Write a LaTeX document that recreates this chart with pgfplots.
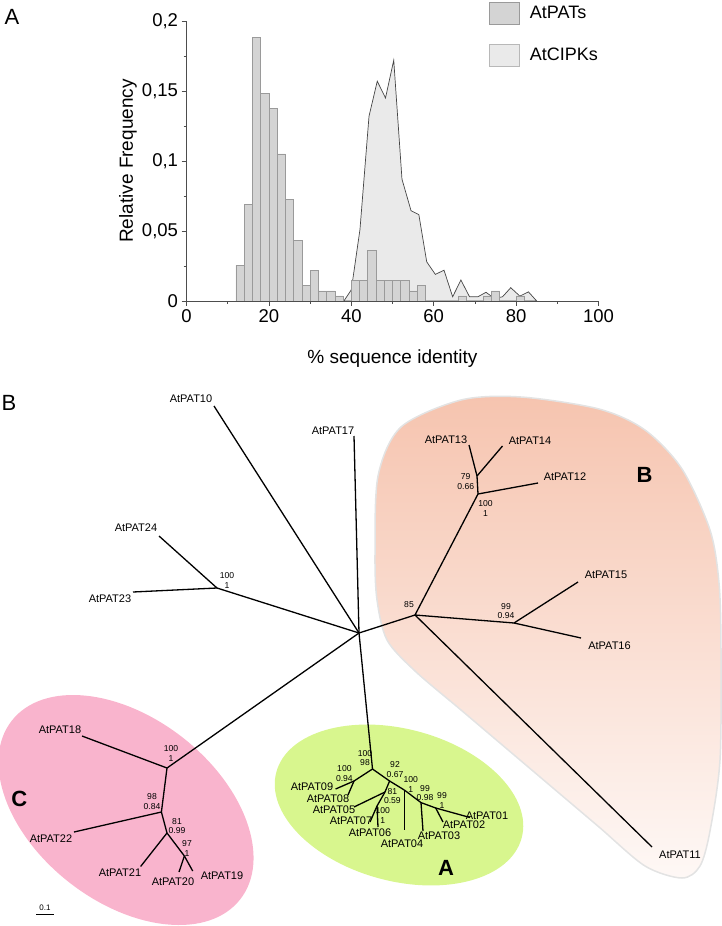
\documentclass[border=0pt]{standalone}
\usepackage{pgfplots}
\pgfplotsset{compat=1.18}
\usepackage{fontspec}
\setmainfont{Liberation Sans}
\definecolor{patfill}{HTML}{D4D4D4}
\definecolor{patedge}{HTML}{9A9A9A}
\definecolor{cipkfill}{HTML}{EAEAEA}
\definecolor{cipkedge}{HTML}{454545}
\definecolor{axisgray}{HTML}{4D4D4D}
\definecolor{cpink}{HTML}{F9B4CD}
\definecolor{agreen}{HTML}{D8F68E}
\definecolor{bpeach}{HTML}{F6C4AF}
\tikzset{
  leaf/.style={font=\fontsize{11bp}{12.5bp}\selectfont, inner sep=0pt},
  bs/.style={font=\fontsize{8.6bp}{9.8bp}\selectfont, inner sep=0pt, align=center},
  big/.style={font=\fontsize{22bp}{24bp}\selectfont\bfseries, inner sep=0pt},
}
\pgfplotsset{tree/.style={black, line width=1.3bp, no markers, forget plot}}
\begin{document}
\begin{tikzpicture}
\path[use as bounding box] (0,0) rectangle (722bp,926bp);
% ---------- tree canvas ----------
\begin{axis}[
  at={(0bp,0bp)}, anchor=south west,
  scale only axis, width=722bp, height=926bp,
  xmin=0, xmax=722, ymin=0, ymax=926, y dir=reverse,
  hide axis, clip=false,
]
% clade backgrounds
\fill[cpink, rotate around={-38:(126,810)}] (126,810) ellipse [x radius=145bp, y radius=92bp];
\fill[agreen, rotate around={-15:(399,805)}] (399,805) ellipse [x radius=127bp, y radius=76bp];
\shade[top color=bpeach, middle color=bpeach, bottom color=bpeach!12, draw=gray!22, line width=1.5bp]
  plot[smooth cycle, tension=0.5] coordinates {(375,554) (378,476) (401,427) (461,400) (521,397) (599,409) (645,430) (682,469) (710,530) (719,583) (721,650) (720,760) (710,831) (700,866) (682,878) (645,866) (599,827) (553,788) (507,749) (461,710) (415,671) (387,640) (377,600)};
% branches
\addplot[tree] coordinates {(214,406) (359,633)};
\addplot[tree] coordinates {(354,436) (359,633)};
\addplot[tree] coordinates {(359,633) (372.5,769)};
\addplot[tree] coordinates {(359,633) (217,588)};
\addplot[tree] coordinates {(217,588) (159,536)};
\addplot[tree] coordinates {(217,588) (133,592)};
\addplot[tree] coordinates {(359,633) (415,615)};
\addplot[tree] coordinates {(415,615) (478,494)};
\addplot[tree] coordinates {(478,494) (477,476)};
\addplot[tree] coordinates {(477,476) (469,445)};
\addplot[tree] coordinates {(477,476) (502.5,446)};
\addplot[tree] coordinates {(478,494) (538,483)};
\addplot[tree] coordinates {(415,615) (514,623)};
\addplot[tree] coordinates {(514,623) (578,582)};
\addplot[tree] coordinates {(514,623) (581,638)};
\addplot[tree] coordinates {(415,615) (652,847)};
\addplot[tree] coordinates {(359,633) (167,768)};
\addplot[tree] coordinates {(167,768) (82,736)};
\addplot[tree] coordinates {(167,768) (161.4,812)};
\addplot[tree] coordinates {(161.4,812) (74,832)};
\addplot[tree] coordinates {(161.4,812) (167,833)};
\addplot[tree] coordinates {(167,833) (140.6,866.5)};
\addplot[tree] coordinates {(167,833) (184.4,856)};
\addplot[tree] coordinates {(184.4,856) (179,872)};
\addplot[tree] coordinates {(184.4,856) (192.7,871)};
\addplot[tree] coordinates {(372.5,769) (354,781)};
\addplot[tree] coordinates {(354,781) (335.6,789)};
\addplot[tree] coordinates {(354,781) (348,795)};
\addplot[tree] coordinates {(372.5,769) (389.6,781)};
\addplot[tree] coordinates {(389.6,781) (385,792)};
\addplot[tree] coordinates {(385,792) (354,807)};
\addplot[tree] coordinates {(385,792) (377,806)};
\addplot[tree] coordinates {(377,806) (370,822)};
\addplot[tree] coordinates {(377,806) (378,827)};
\addplot[tree] coordinates {(389.6,781) (404.3,790)};
\addplot[tree] coordinates {(404.3,790) (404.3,830)};
\addplot[tree] coordinates {(404.3,790) (421,802.6)};
\addplot[tree] coordinates {(421,802.6) (423,831)};
\addplot[tree] coordinates {(421,802.6) (435.7,808)};
\addplot[tree] coordinates {(435.7,808) (443,822)};
\addplot[tree] coordinates {(435.7,808) (470,817.5)};
% scale bar
\addplot[black, line width=0.8bp, no markers, forget plot] coordinates {(36,914) (54.4,914)};
\node[font=\fontsize{8bp}{9bp}\selectfont, inner sep=0pt] at (45,908) {0.1};
% leaf labels
\node[leaf] at (191,399) {AtPAT10};
\node[leaf] at (333,431) {AtPAT17};
\node[leaf] at (136,528) {AtPAT24};
\node[leaf] at (110,599) {AtPAT23};
\node[leaf] at (446,440) {AtPAT13};
\node[leaf] at (530,441) {AtPAT14};
\node[leaf] at (565,477) {AtPAT12};
\node[leaf] at (606,575) {AtPAT15};
\node[leaf] at (609.5,645.5) {AtPAT16};
\node[leaf] at (680,855) {AtPAT11};
\node[leaf] at (60,730) {AtPAT18};
\node[leaf] at (51,839) {AtPAT22};
\node[leaf] at (120,873) {AtPAT21};
\node[leaf] at (173,882) {AtPAT20};
\node[leaf] at (222,876) {AtPAT19};
\node[leaf] at (312,786.5) {AtPAT09};
\node[leaf] at (328,798.5) {AtPAT08};
\node[leaf] at (334,810) {AtPAT05};
\node[leaf] at (351,821) {AtPAT07};
\node[leaf] at (370,833) {AtPAT06};
\node[leaf] at (402,844) {AtPAT04};
\node[leaf] at (439,836) {AtPAT03};
\node[leaf] at (464,825) {AtPAT02};
\node[leaf] at (487,816) {AtPAT01};
% support values
\node[bs] at (227,580.5) {100\\1};
\node[bs] at (409,605) {85};
\node[bs] at (485.5,508.5) {100\\1};
\node[bs] at (465.7,481.4) {79\\0.66};
\node[bs] at (506,611) {99\\0.94};
\node[bs] at (171,753.5) {100\\1};
\node[bs] at (152,801.4) {98\\0.84};
\node[bs] at (177,826) {81\\0.99};
\node[bs] at (187,848.5) {97\\1};
\node[bs] at (365,758) {100\\98};
\node[bs] at (344.4,773.6) {100\\0.94};
\node[bs] at (395,769.3) {92\\0.67};
\node[bs] at (392.4,796) {81\\0.59};
\node[bs] at (382.7,815.6) {100\\1};
\node[bs] at (410.8,784.5) {100\\1};
\node[bs] at (425,793) {99\\0.98};
\node[bs] at (442,800.6) {99\\1};
% clade letters and panel letters
\node[big] at (446,868) {A};
\node[big] at (644.5,474.6) {B};
\node[big] at (19.4,799) {C};
\node[font=\fontsize{22bp}{24bp}\selectfont, inner sep=0pt] at (12,17) {A};
\node[font=\fontsize{22bp}{24bp}\selectfont, inner sep=0pt] at (9,403) {B};
\end{axis}
% ---------- histogram ----------
\begin{axis}[
  at={(186.5bp,625bp)}, anchor=south west,
  scale only axis, width=412bp, height=280bp,
  xmin=0, xmax=100, ymin=0, ymax=0.2,
  axis lines=left, axis line style={-, axisgray, line width=0.8bp},
  axis on top,
  tick align=outside, tick style={axisgray, line width=0.8bp},
  major tick length=5bp, minor tick length=3bp,
  xtick={0,20,40,60,80,100}, xticklabels={0,20,40,60,80,100},
  minor xtick={10,30,50,70,90},
  ytick={0,0.05,0.1,0.15,0.2}, yticklabels={0,{0,05},{0,1},{0,15},{0,2}},
  minor ytick={0.025,0.075,0.125,0.175},
  ticklabel style={font=\fontsize{18.5bp}{21bp}\selectfont},
  xlabel={\% sequence identity}, ylabel={Relative Frequency},
  label style={font=\fontsize{19bp}{22bp}\selectfont},
  xlabel style={at={(axis description cs:0.5,-0.204)}, anchor=center},
  ylabel style={at={(axis description cs:-0.142,0.5)}, anchor=center},
  legend style={draw=none, fill=none, at={(axis description cs:0.734,1.068)}, anchor=north west,
    font=\fontsize{18bp}{21bp}\selectfont, row sep=19bp, column sep=8bp, inner sep=0pt},
  legend cell align=left,
  legend image code/.code={\draw[#1] (0bp,-11bp) rectangle (30bp,11bp);},
  clip=false,
]
\addlegendimage{fill=patfill, draw=patedge, line width=0.8bp}
\addlegendentry{AtPATs}
\addlegendimage{fill=cipkfill, draw=patedge!70, line width=0.8bp}
\addlegendentry{AtCIPKs}
\addplot[fill=cipkfill, draw=cipkedge, line width=0.7bp, forget plot] coordinates {
(38.2,0) (40,0.008) (42.1,0.051) (44.3,0.132) (46.3,0.157) (48.3,0.145) (50.3,0.172)
(52.3,0.087) (54.5,0.0645) (56.4,0.0617) (58.3,0.028) (60.4,0.019) (62.5,0.022)
(64.6,0.003) (66.6,0.015) (68.7,0.003) (70.7,0.003) (72.7,0.0062) (74.7,0.0019)
(76.7,0.003) (78.7,0.0095) (80.9,0.0035) (83,0.0065) (85,0)} \closedcycle;
\addplot[ybar interval, fill=patfill, draw=patedge, line width=0.6bp, forget plot] coordinates {
(12,0.02536) (14,0.06884) (16,0.18841) (18,0.14855) (20,0.13768) (22,0.10507)
(24,0.07246) (26,0.04348) (28,0.01087) (30,0.02174) (32,0.00725) (34,0.00725)
(36,0.00362) (38,0) (40,0.01449) (42,0.01449) (44,0.03623) (46,0.01449)
(48,0.01449) (50,0.01449) (52,0.01449) (54,0.00725) (56,0.01087) (58,0)
(60,0) (62,0) (64,0) (66,0.00362) (68,0) (70,0) (72,0.00362) (74,0.00725)
(76,0) (78,0) (80,0.00362) (82,0)};
\end{axis}
\end{tikzpicture}
\end{document}
